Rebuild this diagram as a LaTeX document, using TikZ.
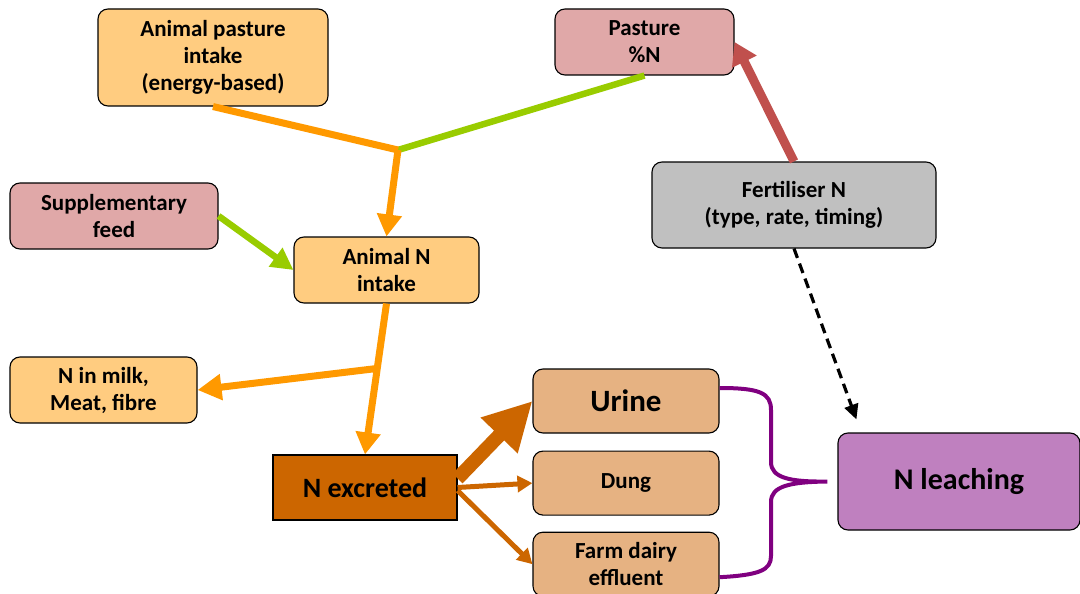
\documentclass[tikz,border=0pt]{standalone}
\usepackage{fontspec}
\setmainfont{Carlito}
\usepackage{tikz}
\usetikzlibrary{arrows.meta, positioning, calc}
\usepackage{xcolor}
\definecolor{feedorange}{HTML}{FFCC80}
\definecolor{feedpink}{HTML}{E0A8A8}
\definecolor{fertgrey}{HTML}{C0C0C0}
\definecolor{excbrown}{HTML}{CC6600}
\definecolor{exctan}{HTML}{E6B282}
\definecolor{leachpurple}{HTML}{BF80BF}
\definecolor{flowline}{HTML}{FF9900}
\definecolor{flowgreen}{HTML}{99CC00}
\definecolor{flowred}{HTML}{C0504D}
\definecolor{bracepurple}{HTML}{800080}

\begin{document}
\begin{tikzpicture}[x=1pt, y=-1pt,
    box/.style={draw, rectangle, rounded corners=10pt, line width=1.1pt, align=center, inner sep=0pt,
        font=\bfseries\fontsize{23}{27}\selectfont},
    orangeflow/.style={flowline, line width=7pt},
    greenflow/.style={flowgreen, line width=6.5pt}]
    \useasboundingbox (0,0) rectangle (1080,594);

    \node[box, fill=feedorange, minimum width=230pt, minimum height=97pt] (pint) at (213,57.5) {Animal pasture\\intake\\(energy-based)};
    \node[box, fill=feedpink, minimum width=179pt, minimum height=66pt] (pn) at (644.5,42) {Pasture\\\%N};
    \node[box, fill=feedpink, minimum width=208pt, minimum height=66pt] (supp) at (114,216) {Supplementary\\feed};
    \node[box, fill=feedorange, minimum width=185pt, minimum height=66pt] (nint) at (386.5,270) {Animal N\\intake};
    \node[box, fill=fertgrey, minimum width=284pt, minimum height=86pt] (fert) at (794,205) {Fertiliser N\\(type, rate, timing)};
    \node[box, fill=feedorange, minimum width=187pt, minimum height=66pt] (milk) at (103.5,390) {N in milk,\\Meat, fibre};
    \node[box, fill=excbrown, rounded corners=0pt, minimum width=184pt, minimum height=65pt,
        font=\bfseries\fontsize{28}{32}\selectfont] (nexc) at (365,487.5) {N excreted};
    \node[box, fill=exctan, minimum width=186pt, minimum height=64pt,
        font=\bfseries\fontsize{31}{34}\selectfont] (urine) at (626,401) {Urine};
    \node[box, fill=exctan, minimum width=186pt, minimum height=64pt, below=17pt of urine] (dung) {Dung};
    \node[box, fill=exctan, minimum width=186pt, minimum height=64pt, below=16pt of dung] (fde) {Farm dairy\\effluent};
    \node[box, fill=leachpurple, minimum width=242pt, minimum height=97pt,
        font=\bfseries\fontsize{30}{34}\selectfont] (leach) at (959,481.5) {N leaching};

    % intake side
    \coordinate (fork) at (398,150);
    \draw[greenflow] (pn.south) -- (fork);
    \draw[orangeflow] (pint.south) -- (fork);
    \draw[orangeflow, -{Triangle[width=24pt,length=22pt]}] (fork) -- (nint.north);
    \draw[greenflow, -{Triangle[width=22pt,length=22pt]}] (supp.east) -- (nint.west);
    \coordinate (split) at ($(nint.south)!0.43!(nexc.north)$);
    \draw[orangeflow, -{Triangle[width=24pt,length=22pt]}] (nint.south) -- (nexc.north);
    \draw[orangeflow, -{Triangle[width=25pt,length=24pt]}] (split) -- (milk.east);

    % excretion
    \draw[excbrown, line width=14pt, -{Triangle[width=48pt,length=48pt]}] ([yshift=9pt]nexc.east) -- (urine.west);
    \draw[excbrown, line width=5pt, -{Triangle[width=16pt,length=15pt]}] (nexc.east) -- (dung.west);
    \draw[excbrown, line width=5pt, -{Triangle[width=16pt,length=15pt]}] ([yshift=-3pt]nexc.east) -- (fde.west);

    % fertiliser
    \draw[flowred, line width=9pt, -{Triangle[width=26pt,length=22pt]}] (fert.north) -- (pn.east);
    \draw[black, line width=3.2pt, dash pattern=on 10pt off 6pt, -{Triangle[width=14pt,length=15pt]}]
        (fert.south) -- ($(leach.north west)+(19,-13)$);

    % brace
    \draw[bracepurple, line width=4pt] ([yshift=13pt]urine.east) .. controls (760,388) and (771,393) .. (771,410)
        -- (771,462) .. controls (771,478) and (790,482) .. ([xshift=-10pt]leach.west)
        .. controls (790,482) and (771,486) .. (771,502) -- (771,556)
        .. controls (771,570) and (760,575) .. ([yshift=-13pt]fde.east);
\end{tikzpicture}
\end{document}
